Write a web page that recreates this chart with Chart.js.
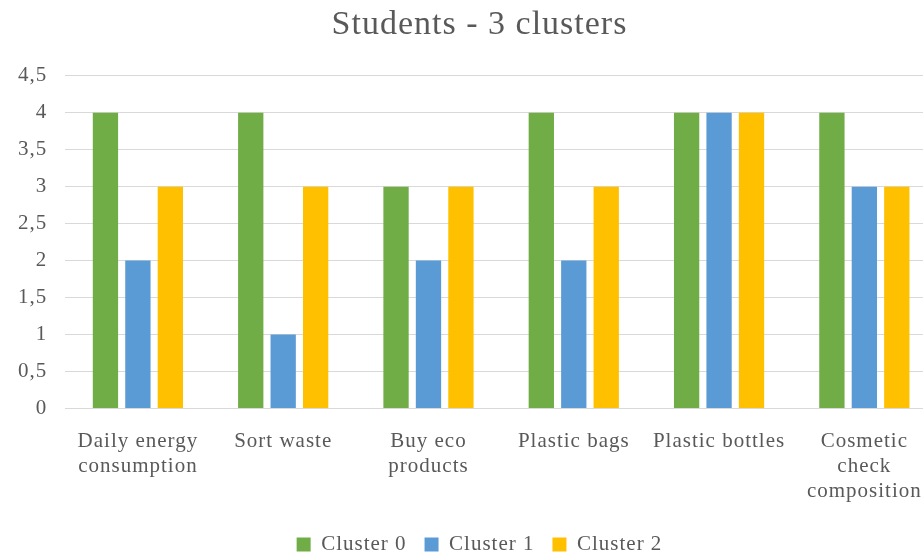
<!DOCTYPE html>
<html>
<head>
<meta charset="utf-8">
<script src="https://cdn.jsdelivr.net/npm/chart.js@4.4.1/dist/chart.umd.min.js"></script>
<style>
  html, body { margin: 0; padding: 0; background: #fff; overflow: hidden; }
  /* the original chart runs a bit past the right edge of the picture */
  #wrap { width: 937px; height: 565px; }
</style>
</head>
<body>
<div id="wrap"><canvas id="chart"></canvas></div>
<script>
// Chart data
const categories = [
    ['Daily energy', 'consumption'],
    'Sort waste',
    ['Buy eco', 'products'],
    'Plastic bags',
    'Plastic bottles',
    ['Cosmetic', 'check', 'composition']
];
const cluster0 = [4, 4, 3, 4, 4, 4];
const cluster1 = [2, 1, 2, 2, 4, 3];
const cluster2 = [3, 3, 3, 3, 4, 3];
const seriesNames = ['Cluster 0', 'Cluster 1', 'Cluster 2'];

const textColor = '#595959';
const serif = "'Liberation Serif', 'Times New Roman', serif";

// the reference text looks a bit stretched, so widen the letters a little
const spacingPlugin = {
    id: 'letterSpacing',
    beforeUpdate(chart) { chart.ctx.letterSpacing = '1px'; },
    beforeLayout(chart) { chart.ctx.letterSpacing = '1px'; },
    beforeDraw(chart) { chart.ctx.letterSpacing = '1px'; }
};

const ctx = document.getElementById('chart');
new Chart(ctx, {
    type: 'bar',
    data: {
        labels: categories,
        datasets: [
            { label: seriesNames[0], data: cluster0, backgroundColor: '#70AD47' },
            { label: seriesNames[1], data: cluster1, backgroundColor: '#5B9BD5' },
            { label: seriesNames[2], data: cluster2, backgroundColor: '#FFC000' }
        ]
    },
    plugins: [spacingPlugin],
    options: {
        responsive: true,
        maintainAspectRatio: false,
        animation: false,
        // negative right padding only moves the title/legend centre
        layout: { padding: { left: 0, right: -22, top: 5, bottom: 0 } },
        datasets: {
            bar: { categoryPercentage: 0.67, barPercentage: 0.78 }
        },
        plugins: {
            title: {
                display: true,
                text: 'Students - 3 clusters',
                color: textColor,
                font: { family: serif, size: 34, weight: 'normal' },
                padding: { top: 0, bottom: 30 }
            },
            legend: {
                position: 'bottom',
                labels: {
                    color: textColor,
                    font: { family: serif, size: 21 },
                    boxWidth: 14,
                    boxHeight: 14,
                    padding: 18
                }
            },
            tooltip: { enabled: false }
        },
        scales: {
            x: {
                grid: { display: false },
                border: { color: '#d9d9d9' },
                ticks: {
                    color: textColor,
                    font: { family: serif, size: 21, lineHeight: 1.2 },
                    maxRotation: 0,
                    autoSkip: false,
                    padding: 12
                }
            },
            y: {
                min: 0,
                max: 4.5,
                grid: { color: '#d9d9d9', drawTicks: false },
                border: { display: false },
                ticks: {
                    stepSize: 0.5,
                    color: textColor,
                    font: { family: serif, size: 21 },
                    padding: 18,
                    callback: function(value) {
                        return String(value).replace('.', ',');
                    }
                }
            },
            // empty right-hand axis, only there to reserve a little space
            yRight: {
                position: 'right',
                display: true,
                grid: { display: false },
                border: { display: false },
                ticks: { display: false },
                afterFit: function(scale) { scale.width = 2; }
            }
        }
    }
});
</script>
</body>
</html>
